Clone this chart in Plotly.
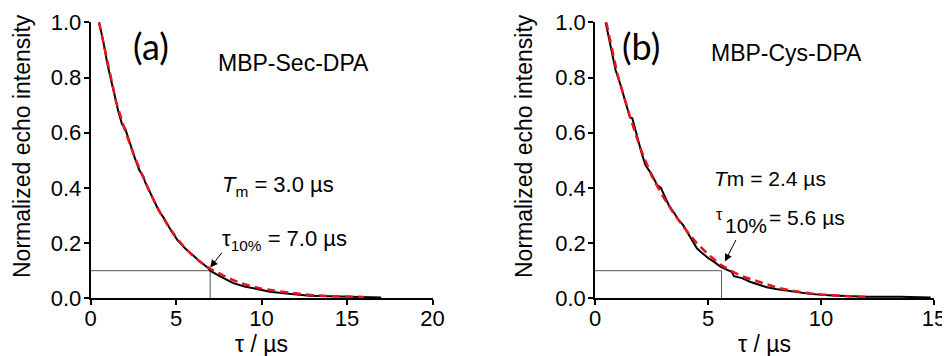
import plotly.graph_objects as go

# ---------------- data ----------------
# Panel (a) MBP-Sec-DPA : experimental echo decay (black)
t_a_data = [0.5, 0.75, 1.0, 1.24, 1.45, 1.63, 1.85, 2.02, 2.1, 2.3, 2.6, 2.85, 3.0, 3.1, 3.19, 3.58,
            3.9, 4.16, 4.3, 4.75, 5.1, 5.53, 5.9, 6.3, 6.89, 7.0, 7.5,
            8.0, 8.35, 9.0, 9.9, 10.5, 11.3, 12.0, 12.8, 14.0, 15.2, 16.2, 17.0]
y_a_data = [1.0, 0.93, 0.845, 0.785, 0.725, 0.676, 0.63, 0.616, 0.6, 0.565, 0.507, 0.465, 0.452, 0.44, 0.422, 0.368,
            0.33, 0.302, 0.29, 0.241, 0.21, 0.181, 0.16, 0.139, 0.109, 0.1, 0.082,
            0.066, 0.055, 0.043, 0.03, 0.024, 0.018, 0.013, 0.009, 0.007, 0.006, 0.004, 0.003]
# Panel (a) fit (red dashed)
t_a_fit = [0.5, 1.0, 1.5, 2.0, 2.5, 3.0, 3.5, 4.0, 4.5, 5.0, 5.5, 6.0, 6.5, 7.0, 7.5, 8.0,
           8.5, 9.0, 9.5, 10.0, 11.0, 12.0, 13.0, 14.0, 15.0, 16.0]
y_a_fit = [1.0, 0.85, 0.712, 0.612, 0.525, 0.45, 0.38, 0.318, 0.266, 0.222, 0.184, 0.153, 0.128, 0.107, 0.09, 0.075,
           0.062, 0.051, 0.043, 0.035, 0.025, 0.017, 0.011, 0.008, 0.006, 0.005]
tau10_a = 7.0
tm_a = 3.0

# Panel (b) MBP-Cys-DPA : experimental echo decay (black)
t_b_data = [0.47, 0.7, 0.91, 1.13, 1.43, 1.55, 1.65, 1.87, 2.05, 2.23, 2.5, 2.75, 2.92, 3.0, 3.26, 3.5,
            3.7, 3.9, 4.07, 4.3, 4.51, 4.67, 5.02, 5.3, 5.55, 5.8, 6.05, 6.15, 6.5, 6.86, 7.2,
            7.6, 8.0, 8.5, 9.0, 9.5, 10.5, 11.2, 12.0, 13.5, 14.3, 14.85]
y_b_data = [1.0, 0.91, 0.827, 0.773, 0.688, 0.655, 0.652, 0.58, 0.53, 0.483, 0.45, 0.41, 0.4, 0.385, 0.338, 0.31,
            0.284, 0.265, 0.241, 0.21, 0.181, 0.169, 0.145, 0.13, 0.115, 0.105, 0.096, 0.08, 0.073, 0.06, 0.05,
            0.04, 0.034, 0.028, 0.022, 0.016, 0.01, 0.008, 0.006, 0.006, 0.004, 0.003]
# Panel (b) fit (red dashed)
t_b_fit = [0.5, 1.0, 1.5, 2.0, 2.5, 3.0, 3.5, 4.0, 4.5, 5.0, 5.5, 6.0, 6.5, 7.0, 7.5, 8.0,
           8.5, 9.0, 9.5, 10.0, 10.5, 11.0, 11.5, 12.0]
y_b_fit = [1.0, 0.81, 0.67, 0.545, 0.445, 0.37, 0.305, 0.25, 0.2, 0.16, 0.125, 0.1, 0.08, 0.066, 0.052, 0.04,
           0.031, 0.024, 0.018, 0.014, 0.011, 0.008, 0.006, 0.005]
tau10_b = 5.6
tm_b = 2.4

level = 0.1
x_ticks_a = [0, 5, 10, 15, 20]
x_ticks_b = [0, 5, 10, 15]
y_ticks = [0.0, 0.2, 0.4, 0.6, 0.8, 1.0]

# ---------------- figure ----------------
# the page places the plot 8 px from the window's top-left corner
OFF = 8
W, H = 950 - OFF, 356 - OFF
def px(x):
    return (x - OFF) / W
def py(y):
    return 1 - (y - OFF) / H

FONT = "Liberation Sans, Arial, sans-serif"
fig = go.Figure()

def add_panel(xr, yr, t_d, y_d, t_f, y_f, tau10):
    fig.add_trace(go.Scatter(x=[0, tau10, tau10], y=[level, level, 0], mode="lines",
                             line=dict(color="#555555", width=1), xaxis=xr, yaxis=yr,
                             showlegend=False, hoverinfo="skip"))
    fig.add_trace(go.Scatter(x=t_d, y=y_d, mode="lines", line=dict(color="black", width=2),
                             xaxis=xr, yaxis=yr, showlegend=False, cliponaxis=False))
    fig.add_trace(go.Scatter(x=t_f, y=y_f, mode="lines",
                             line=dict(color="#e8141b", width=2.5, dash="8px,5px"),
                             xaxis=xr, yaxis=yr, showlegend=False, cliponaxis=False))

add_panel("x", "y", t_a_data, y_a_data, t_a_fit, y_a_fit, tau10_a)
add_panel("x2", "y2", t_b_data, y_b_data, t_b_fit, y_b_fit, tau10_b)

axis_common = dict(showline=True, linecolor="black", linewidth=1.6, ticks="outside",
                   ticklen=5, tickwidth=1.6, tickcolor="black", showgrid=False,
                   zeroline=False, automargin=False,
                   tickfont=dict(family=FONT, size=22, color="black"))
xstyle = dict(ticklabelstandoff=-6, **axis_common)
ystyle = dict(ticklabelstandoff=-2, **axis_common)
ydom = [py(298.3), py(22.3)]
fig.update_layout(
    template="none",
    width=W, height=H, margin=dict(l=0, r=0, t=0, b=0, pad=0, autoexpand=False),
    paper_bgcolor="white", plot_bgcolor="white",
    font=dict(family=FONT, color="black"),
    xaxis=dict(domain=[px(90.5), px(432.5)], range=[0, 20], tickvals=x_ticks_a, anchor="y", **xstyle),
    yaxis=dict(domain=ydom, range=[0, 1], tickvals=y_ticks, tickformat=".1f", anchor="x", **ystyle),
    xaxis2=dict(domain=[px(595), px(934)], range=[0, 15], tickvals=x_ticks_b, anchor="y2", **xstyle),
    yaxis2=dict(domain=ydom, range=[0, 1], tickvals=y_ticks, tickformat=".1f", anchor="x2", **ystyle),
)

ann = []
def text(x, y, s, size, xanchor="left", family=FONT, angle=0):
    ann.append(dict(x=px(x), y=py(y), xref="paper", yref="paper", text=s, showarrow=False,
                    xanchor=xanchor, yanchor="middle", textangle=angle,
                    font=dict(family=family, size=size, color="black")))

# axis titles
text(22, 146, "Normalized echo intensity", 23, xanchor="center", angle=-90)
text(524, 146, "Normalized echo intensity", 23, xanchor="center", angle=-90)
text(261.5, 344, "τ / µs", 23, xanchor="center")
text(764.5, 344, "τ / µs", 23, xanchor="center")

# panel labels
text(131, 46, "(a)", 36, family="Lato, Open Sans, sans-serif")
text(620, 46, "(b)", 36, family="Lato, Open Sans, sans-serif")
text(216, 63, "MBP-Sec-DPA", 23)
text(709, 53, "MBP-Cys-DPA", 23)
text(220, 186, f"<i>T</i><sub>m</sub> = {tm_a:.1f} µs", 22)
text(220, 240, f"τ<sub>10%</sub> = {tau10_a:.1f} µs", 22)
text(712, 178, f"<i>T</i>m = {tm_b:.1f} µs", 21)
# panel (b): small raised tau, full-size "10%", then the value
text(714, 214, "τ", 16)
text(723, 226, "10%", 21)
text(767, 217, f"= {tau10_b:.1f} µs", 21)

# arrows pointing to the 10% crossing
ann.append(dict(x=tau10_a, y=0.112, ax=7.75, ay=0.17, xref="x", yref="y", axref="x", ayref="y",
                text="", showarrow=True, arrowhead=2, arrowsize=1.5, arrowwidth=1, arrowcolor="black"))
ann.append(dict(x=5.75, y=0.133, ax=6.27, ay=0.217, xref="x2", yref="y2", axref="x2", ayref="y2",
                text="", showarrow=True, arrowhead=2, arrowsize=1.5, arrowwidth=1, arrowcolor="black"))

fig.update_layout(annotations=ann)
fig.write_html("out.html")
